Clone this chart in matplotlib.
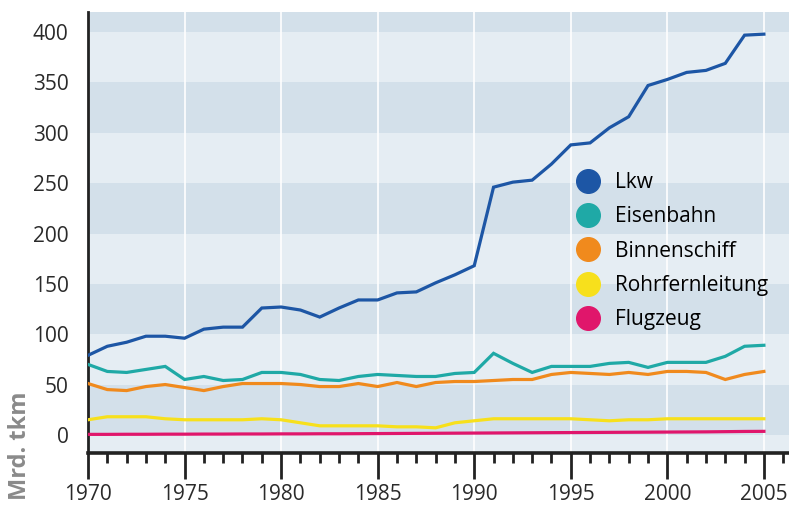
import matplotlib
matplotlib.use("Agg")
import matplotlib.pyplot as plt
from matplotlib.lines import Line2D
from matplotlib.ticker import MultipleLocator

plt.rcParams['font.family'] = ['Open Sans', 'DejaVu Sans']

years = list(range(1970, 2006))

lkw = [79, 88, 92, 98, 98, 96, 105, 107, 107, 126,
       127, 124, 117, 126, 134, 134, 141, 142, 151, 159,
       168, 246, 251, 253, 269, 288, 290, 305, 316, 347,
       353, 360, 362, 369, 397, 398]
eisenbahn = [70, 63, 62, 65, 68, 55, 58, 54, 55, 62,
             62, 60, 55, 54, 58, 60, 59, 58, 58, 61,
             62, 81, 71, 62, 68, 68, 68, 71, 72, 67,
             72, 72, 72, 78, 88, 89]
binnenschiff = [51, 45, 44, 48, 50, 47, 44, 48, 51, 51,
                51, 50, 48, 48, 51, 48, 52, 48, 52, 53,
                53, 54, 55, 55, 60, 62, 61, 60, 62, 60,
                63, 63, 62, 55, 60, 63]
rohrfernleitung = [15, 18, 18, 18, 16, 15, 15, 15, 15, 16,
                   15, 12, 9, 9, 9, 9, 8, 8, 7, 12,
                   14, 16, 16, 16, 16, 16, 15, 14, 15, 15,
                   16, 16, 16, 16, 16, 16]
flugzeug = [0.5, 0.5, 0.6, 0.6, 0.7, 0.7, 0.8, 0.8, 0.9, 0.9,
            1.0, 1.0, 1.1, 1.1, 1.2, 1.3, 1.4, 1.5, 1.6, 1.7,
            1.8, 1.9, 2.0, 2.1, 2.2, 2.3, 2.4, 2.5, 2.6, 2.7,
            2.8, 2.9, 3.0, 3.2, 3.4, 3.5]

labels = ['Lkw', 'Eisenbahn', 'Binnenschiff', 'Rohrfernleitung', 'Flugzeug']
colors = ['#1d56a5', '#1fa9a6', '#f08a1d', '#f7e01c', '#e0166b']
series = [lkw, eisenbahn, binnenschiff, rohrfernleitung, flugzeug]

fig = plt.figure(figsize=(7.89, 5.07), dpi=100)
ax = fig.add_axes([88 / 789, 54 / 507, 1 - 88 / 789, 441 / 507])

# alternating horizontal bands, white vertical grid every 5 years
ax.set_facecolor('#e5edf3')
for lo in range(0, 450, 100):
    ax.axhspan(lo, lo + 50, color='#d3e0ea', lw=0, zorder=0)
for yr in range(1975, 2006, 5):
    ax.axvline(yr, color='white', lw=1.2, zorder=1)

for vals, c in zip(series[::-1], colors[::-1]):
    ax.plot(years, vals, color=c, lw=2.3, zorder=3, solid_joinstyle='miter')

ax.set_xlim(1970, 2006.3)
ax.set_ylim(-18, 420)
ax.set_yticks(range(0, 401, 50))
ax.set_xticks(range(1970, 2006, 5))
ax.xaxis.set_minor_locator(MultipleLocator(1))

for side in ['top', 'right']:
    ax.spines[side].set_visible(False)
ax.spines['left'].set_color('#222222')
ax.spines['left'].set_linewidth(2)
ax.spines['bottom'].set_color('#222222')
ax.spines['bottom'].set_linewidth(2.6)

ax.tick_params(axis='y', length=0, pad=14, labelsize=15, labelcolor='#2a2a2a')
ax.tick_params(axis='x', which='major', direction='out', length=19, width=2,
               color='#222222', pad=3, labelsize=15, labelcolor='#2a2a2a')
ax.tick_params(axis='x', which='minor', direction='out', length=7, width=2,
               color='#222222')

fig.text(20 / 789, 1 - 446 / 507, 'Mrd. tkm', rotation=90, ha='center',
         va='center', fontsize=17, fontweight='bold', color='#8a8a8a')

handles = [Line2D([], [], marker='o', linestyle='', markersize=17,
                  markerfacecolor=c, markeredgecolor=c) for c in colors]
ax.legend(handles, labels, loc='upper left', frameon=False, fontsize=15,
          bbox_to_anchor=(575 / 789, 1 - 172 / 507), bbox_transform=fig.transFigure,
          borderpad=0, borderaxespad=0, handlelength=1.2, handletextpad=0.7,
          labelspacing=0.64)

fig.savefig('out.png', dpi=100)
